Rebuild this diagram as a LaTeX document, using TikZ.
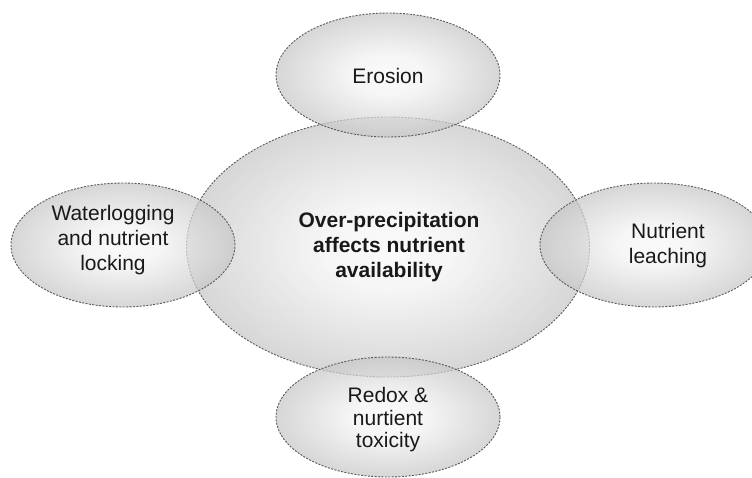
\documentclass[tikz,border=0pt]{standalone}
\usepackage{fontspec}
\setmainfont{Liberation Sans}
\usepackage{xcolor}
\usepackage{tikz}
\usetikzlibrary{shapes.geometric}

\pgfdeclareradialshading{blobshade}{\pgfpoint{0bp}{0bp}}{%
    color(0bp)=(black!3); color(8bp)=(black!5); color(50bp)=(black!47); color(100bp)=(black!47)}

\begin{document}
\begin{tikzpicture}[
        x=1pt, y=-1pt,
        blob/.style={ellipse, draw=black!65, line width=0.9pt,
                     dash pattern=on 2pt off 1.4pt, inner sep=0pt,
                     shade, shading=blobshade,
                     fill opacity=0.72, draw opacity=1},
        lbl/.style={align=center, text=black!90, font=\fontsize{21}{25}\selectfont},
    ]
        \useasboundingbox (0,0) rectangle (752,477);
        % ellipses
        \node[blob, minimum width=403pt, minimum height=260pt] (cause) at (388,247) {};
        \node[blob, minimum width=224pt, minimum height=124pt] (erosion) at (388,75) {};
        \node[blob, minimum width=224pt, minimum height=124pt] (waterlog) at (123,245) {};
        \node[blob, minimum width=228pt, minimum height=124pt] (leach) at (654,245) {};
        \node[blob, minimum width=224pt, minimum height=120pt] (redox) at (388,417) {};
        % texts
        \node[lbl, font=\fontsize{21}{25}\selectfont\bfseries] (cause-t) at (389,247)
            {Over-precipitation\\affects nutrient\\availability};
        \node[lbl] (erosion-t) at (388,76) {Erosion};
        \node[lbl] (waterlog-t) at (113,240) {Waterlogging\\and nutrient\\locking};
        \node[lbl] (leach-t) at (668,246) {Nutrient\\leaching};
        \node[lbl, font=\fontsize{21}{22.5}\selectfont] (redox-t) at (388,420)
            {Redox \&\\nurtient\\toxicity};
    \end{tikzpicture}
\end{document}
